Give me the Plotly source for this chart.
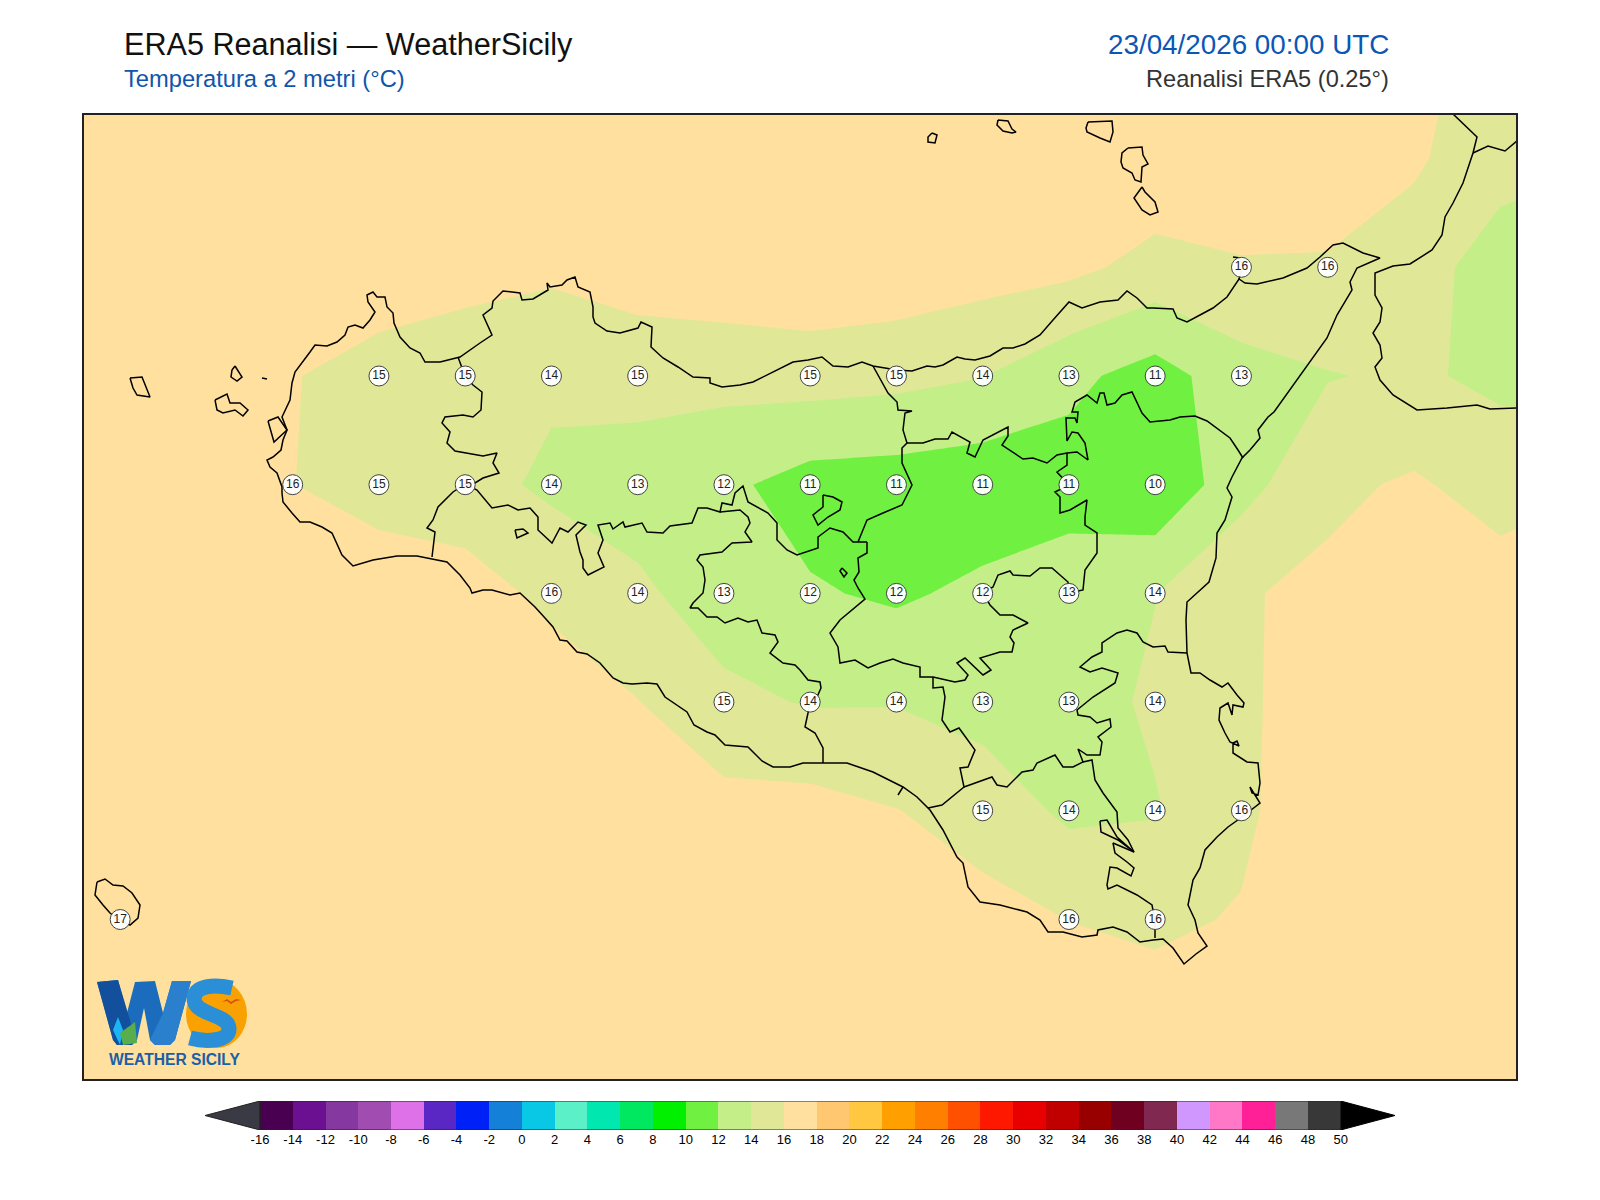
import numpy as np
import plotly.graph_objects as go

# griglia ERA5 0.25 gradi
lons = [11.75, 12.0, 12.25, 12.5, 12.75, 13.0, 13.25, 13.5, 13.75, 14.0, 14.25, 14.5, 14.75, 15.0, 15.25, 15.5, 15.75, 16.0, 16.25]
lats = [38.75, 38.5, 38.25, 38.0, 37.75, 37.5, 37.25, 37.0, 36.75, 36.5, 36.25]

t2m_3875 = [17, 17, 17, 17, 17, 17, 17, 17, 17, 17, 17, 17, 17, 17, 17, 17, 16.4, 15.5, 15]
t2m_3850 = [17, 17, 17.3, 17.3, 17.3, 17, 17, 17, 17, 17.3, 17.3, 17, 17, 17.5, 16.8, 17.2, 16.15, 15.3, 14.2]
t2m_3825 = [17.2, 17.2, 17.3, 17.5, 17.35, 16.66, 16.39, 16.98, 17.43, 17.64, 17.35, 16.83, 16.5, 15.33, 15.9, 15.8, 15.48, 12.38, 12.5]
t2m_3800 = [17.2, 17.2, 17.0, 16.11, 15.1, 14.9, 14.33, 14.75, 14.63, 14.84, 14.59, 14.06, 12.5, 11.17, 13.15, 13.9, 14.29, 13.56, 13]
t2m_3775 = [17, 17, 16.8, 16.04, 15.0, 14.7, 13.64, 13.0, 12.41, 11.2, 11.03, 10.7, 11.1, 10.3, 13.28, 15.6, 16.25, 15.2, 15.9]
t2m_3750 = [17, 17, 17.2, 17.3, 17.4, 16.92, 15.5, 14.4, 12.92, 12.2, 11.7, 12.45, 13.1, 13.95, 15.85, 16.4, 17, 16.9, 16.7]
t2m_3725 = [17, 17, 17, 17.2, 17.4, 17.3, 17.2, 16.05, 14.5, 13.85, 13.9, 13.2, 13.1, 14.33, 15.8, 16.6, 17, 17, 17]
t2m_3700 = [17, 17, 17, 17, 17, 17, 17.2, 17, 16.67, 16.72, 16.05, 15.25, 13.6, 13.85, 15.75, 16.9, 17, 17, 17]
t2m_3675 = [17, 17, 17, 17, 17, 17, 17, 17, 17.4, 17.5, 17.2, 16.57, 15.98, 15.78, 16.09, 17, 17, 17, 17]
t2m_3650 = [17, 17, 17, 17, 17, 17, 17, 17, 17, 17, 17, 17.2, 17, 16.57, 17, 17, 17, 17, 17]
t2m_3625 = [17, 17, 17, 17, 17, 17, 17, 17, 17, 17, 17, 17, 17, 17, 17, 17, 17, 17, 17]
t2m = [t2m_3875, t2m_3850, t2m_3825, t2m_3800, t2m_3775, t2m_3750, t2m_3725, t2m_3700, t2m_3675, t2m_3650, t2m_3625]

# etichette sui punti di terra
label_lon = [15.25, 15.5,
             12.75, 13.0, 13.25, 13.5, 14.0, 14.25, 14.5, 14.75, 15.0, 15.25,
             12.5, 12.75, 13.0, 13.25, 13.5, 13.75, 14.0, 14.25, 14.5, 14.75, 15.0,
             13.25, 13.5, 13.75, 14.0, 14.25, 14.5, 14.75, 15.0,
             13.75, 14.0, 14.25, 14.5, 14.75, 15.0,
             14.5, 14.75, 15.0, 15.25,
             12.0, 14.75, 15.0]
label_lat = [38.25, 38.25,
             38.0, 38.0, 38.0, 38.0, 38.0, 38.0, 38.0, 38.0, 38.0, 38.0,
             37.75, 37.75, 37.75, 37.75, 37.75, 37.75, 37.75, 37.75, 37.75, 37.75, 37.75,
             37.5, 37.5, 37.5, 37.5, 37.5, 37.5, 37.5, 37.5,
             37.25, 37.25, 37.25, 37.25, 37.25, 37.25,
             37.0, 37.0, 37.0, 37.0,
             36.75, 36.75, 36.75]
label_val = [16, 16,
             15, 15, 14, 15, 15, 15, 14, 13, 11, 13,
             16, 15, 15, 14, 13, 12, 11, 11, 11, 11, 10,
             16, 14, 13, 12, 12, 12, 13, 14,
             15, 14, 14, 13, 13, 14,
             15, 14, 14, 16,
             17, 16, 16]

# scala colori
levels = list(range(-16, 52, 2))
band_colors = ["#4a0050", "#6a1090", "#8438a0", "#a04cb0", "#de70e8", "#5a26c4", "#0020f8", "#1480d8",
               "#08c8e6", "#5cf0c8", "#00e8b0", "#00e860", "#00f000", "#70f040", "#c3ee88", "#e0e898",
               "#ffe09e", "#ffc870", "#ffc840", "#ffa000", "#ff8000", "#ff5000", "#ff1800", "#e80000",
               "#c00000", "#980000", "#700020", "#802850", "#d098ff", "#ff78c8", "#ff2098", "#787878", "#383838"]

coast_main = [(282,493),(283,502),(292,513),(300,522),(310,522),(322,527),(332,533),(342,555),(353,566),(373,560),(397,556),(417,556),(432,559),(447,562),(460,575),(470,588),(472,593),(483,590),(492,590),(510,595),(520,593),(528,600),(535,607),(545,618),(553,627),(560,640),(567,641),(577,652),(587,654),(600,663),(613,678),(623,683),(632,684),(647,683),(657,684),(665,697),(680,707),(687,712),(694,725),(707,732),(715,735),(725,745),(748,747),(762,761),(773,767),(790,767),(803,763),(823,763),(847,763),(873,772),(893,782),(903,787),(917,797),(930,810),(943,830),(957,857),(963,863),(968,887),(980,902),(1000,905),(1027,912),(1040,920),(1048,932),(1063,932),(1082,937),(1097,935),(1098,930),(1113,927),(1127,932),(1140,942),(1153,940),(1163,939),(1173,948),(1184,964),(1196,954),(1207,946),(1198,933),(1195,920),(1188,905),(1190,895),(1193,880),(1200,868),(1205,850),(1217,837),(1228,827),(1242,817),(1260,803),(1250,787),(1252,793),(1258,795),(1260,783),(1258,763),(1247,762),(1233,753),(1233,743),(1237,741),(1239,746),(1230,742),(1225,733),(1219,720),(1220,708),(1228,703),(1232,715),(1233,705),(1243,707),(1244,703),(1237,695),(1228,683),(1222,687),(1210,680),(1200,673),(1191,673),(1187,653),(1186,620),(1187,602),(1209,582),(1216,558),(1217,533),(1225,520),(1232,497),(1227,488),(1232,477),(1242,458),(1250,450),(1260,438),(1258,430),(1268,417),(1274,412),(1308,365),(1327,338),(1337,315),(1352,290),(1350,282),(1357,268),(1380,258),(1363,253),(1343,243),(1333,245),(1320,257),(1307,268),(1283,278),(1257,284),(1245,283),(1239,279),(1227,297),(1213,308),(1200,315),(1187,322),(1177,318),(1173,309),(1153,308),(1147,308),(1137,298),(1127,291),(1118,300),(1100,302),(1082,308),(1069,302),(1053,320),(1040,335),(1025,344),(1013,348),(1003,348),(990,356),(975,360),(965,359),(957,357),(943,365),(935,367),(927,366),(912,371),(897,370),(873,366),(862,362),(848,367),(833,366),(822,357),(808,360),(793,362),(773,372),(753,382),(740,385),(722,387),(710,383),(710,378),(693,377),(678,367),(663,358),(651,347),(652,327),(641,322),(638,328),(620,333),(607,331),(595,323),(593,317),(593,307),(590,292),(578,287),(575,277),(567,280),(562,285),(550,287),(547,283),(548,290),(533,299),(522,300),(520,293),(503,291),(493,301),(492,308),(483,315),(492,335),(480,343),(460,357),(440,362),(425,362),(420,353),(410,348),(400,337),(394,323),(393,313),(387,307),(385,297),(377,297),(373,292),(367,295),(368,302),(375,312),(370,320),(363,328),(355,325),(348,327),(345,335),(337,342),(327,346),(315,345),(310,352),(302,363),(295,372),(292,383),(290,400),(282,417),(287,430),(283,440),(281,450),(273,457),(267,460),(270,467),(277,473),(282,487),(282,493)]
coast_calabria = [(1453,114),(1467,127),(1477,137),(1473,153),(1463,183),(1453,203),(1445,217),(1442,235),(1432,250),(1410,264),(1393,266),(1375,273),(1375,295),(1382,308),(1380,322),(1373,333),(1380,345),(1382,358),(1375,367),(1380,380),(1393,395),(1417,410),(1447,408),(1477,405),(1490,409),(1517,408)]
border_calabria = [(1473,153),(1488,146),(1505,151),(1517,141)]
milazzo = [(1239,279),(1243,268),(1240,258),(1233,257)]
isola_lunga = [(268,421),(278,417),(287,430),(274,442),(268,421)]
marettimo = [(130,378),(142,377),(150,397),(137,395),(133,388),(130,378)]
levanzo = [(235,366),(242,377),(237,381),(231,377),(232,370),(235,366)]
favignana = [(215,400),(227,394),(230,403),(240,403),(248,410),(243,416),(235,410),(223,413),(217,410),(215,400)]
formica = [(262,378),(267,379)]
alicudi = [(932,133),(937,135),(935,143),(928,142),(928,137),(932,133)]
filicudi = [(998,120),(1008,121),(1012,129),(1016,132),(1012,133),(1003,131),(997,125),(998,120)]
salina = [(1088,122),(1112,121),(1113,132),(1110,142),(1100,138),(1087,132),(1086,128),(1088,122)]
lipari = [(1128,148),(1142,147),(1143,155),(1148,164),(1142,167),(1141,182),(1135,180),(1132,173),(1123,168),(1121,162),(1122,153),(1128,148)]
vulcano = [(1142,187),(1145,192),(1155,202),(1158,212),(1150,215),(1142,210),(1134,198),(1138,192),(1142,187)]
pantelleria = [(97,882),(105,879),(113,885),(123,886),(132,893),(140,905),(138,918),(130,925),(119,920),(110,913),(103,905),(95,895),(97,882)]

border_tp_pa = [(458,357),(465,376),(473,385),(482,392),(481,410),(473,417),(463,415),(445,417),(442,423),(450,432),(447,443),(455,451),(483,456),(497,453),(493,463),(499,473),(483,478),(475,483),(465,484)]
border_tp_ag = [(465,484),(453,492),(438,507),(433,520),(427,528),(435,532),(432,557)]
border_pa_ag = [(465,484),(477,490),(492,508),(508,505),(518,510),(530,508),(538,517),(538,530),(552,543),(560,528),(568,532),(578,522),(586,525),(576,535),(580,552),(583,560),(583,568),(588,575),(604,567),(598,553),(603,540),(598,525),(610,523),(613,529),(623,522),(625,527),(642,523),(647,532),(663,533),(670,526),(692,523),(698,508),(707,508),(720,512),(722,503),(732,505),(735,493),(743,486),(748,502),(768,513),(777,523),(777,540),(787,550),(797,555),(818,548),(818,537),(830,528),(843,532),(853,542),(858,542),(867,542)]
border_pa_me = [(858,542),(867,520),(883,513),(902,505),(912,485),(902,463),(902,448),(907,443),(903,430),(905,413),(912,411),(898,410),(897,402),(888,393),(873,366)]
border_me_en = [(907,443),(923,443),(935,439),(948,439),(952,432),(970,442),(967,453),(975,457),(983,440),(997,433),(1008,427),(1008,436),(1002,445),(1023,459),(1033,458),(1047,463),(1057,455),(1067,453),(1077,452),(1088,460),(1085,443),(1078,433),(1072,432),(1067,441),(1066,418),(1075,418),(1077,423),(1078,412),(1072,412),(1075,402),(1087,395),(1097,403),(1100,393),(1104,393),(1107,405),(1115,403),(1122,395),(1132,392),(1142,413),(1150,422),(1170,420),(1180,417),(1195,416),(1207,421),(1218,429),(1230,438),(1238,450),(1243,458)]
border_en_ct = [(1067,453),(1067,465),(1057,472),(1069,485),(1055,492),(1060,497),(1060,513),(1070,510),(1087,500),(1085,517),(1085,525),(1097,533),(1097,553),(1085,570),(1083,590),(1069,593),(1068,582),(1052,568),(1040,568),(1030,576),(1013,575),(1010,571),(998,575),(993,587),(983,593),(990,605),(1000,615),(1013,615),(1028,623),(1013,630),(1010,637),(1014,643),(1012,652),(1000,652),(980,658),(991,670),(983,675),(965,658),(957,663),(968,675),(965,680),(955,682),(933,677),(920,677),(920,667),(903,663),(893,659),(880,663),(868,668),(855,660),(840,663),(838,647),(830,633),(840,620),(865,599),(858,588),(854,580),(859,572),(858,558),(867,553),(867,542)]
border_cl_ct = [(933,677),(933,688),(943,687),(945,697),(942,720),(950,732),(959,728),(975,750),(968,767),(960,768),(964,787),(942,805),(928,808)]
border_ct_rg = [(964,787),(992,777),(997,785),(1007,787),(1022,772),(1033,770),(1037,763),(1055,755),(1063,767),(1073,767),(1083,762),(1078,749),(1087,755),(1100,755),(1102,742),(1098,737),(1111,727),(1110,719),(1097,723),(1090,717),(1078,715),(1077,710),(1093,697),(1107,688),(1115,683),(1118,673),(1102,668),(1090,672),(1080,667),(1092,657),(1102,652),(1102,643),(1117,633),(1127,630),(1137,633),(1143,642),(1153,647),(1165,646),(1168,652),(1187,653)]
border_rg_sr = [(1083,762),(1092,760),(1095,780),(1103,793),(1117,812),(1118,828),(1128,840),(1134,852),(1113,843),(1115,853),(1127,862),(1134,868),(1131,876),(1117,868),(1110,867),(1107,885),(1108,889),(1117,885),(1137,895),(1152,905),(1155,920),(1155,938)]
laghetto_sr = [(1100,821),(1107,820),(1117,837),(1134,852),(1118,840),(1101,832),(1100,821)]
border_ag_cl = [(823,763),(823,748),(815,733),(805,727),(808,713),(810,702),(817,697),(821,688),(820,682),(808,680),(800,670),(795,665),(783,663),(770,653),(778,642),(775,635),(762,633),(757,620),(748,622),(738,618),(725,623),(717,617),(707,617),(698,608),(690,608),(693,603),(703,593),(705,580),(703,567),(697,560),(700,555),(722,552),(732,543),(752,542),(745,532),(750,523),(748,517),(740,510),(720,512)]
stub_gela = [(903,787),(898,795)]
lake_pozzillo = [(842,568),(847,573),(844,577),(840,571),(842,568)]
lake_enna = [(823,495),(833,497),(842,502),(840,510),(828,517),(818,525),(813,515),(823,507),(823,495)]
lake_ag = [(515,530),(523,529),(528,533),(517,538),(515,530)]

map_lines = [coast_main, coast_calabria, border_calabria, milazzo, isola_lunga, marettimo, levanzo, favignana, formica,
             alicudi, filicudi, salina, lipari, vulcano, pantelleria, border_tp_pa, border_tp_ag, border_pa_ag,
             border_pa_me, border_me_en, border_en_ct, border_cl_ct, border_ct_rg, border_rg_sr, laghetto_sr,
             border_ag_cl, stub_gela, lake_pozzillo, lake_enna, lake_ag]

W, H = 1600, 1200
PAGE_MARGIN = 8  # margine del body nella pagina
FRAME = (84, 115, 1516, 1079)


def to_lon(x):
    return 12.5 + (x - 292.7) / 345.0


def to_lat(y):
    return 38.0 - (y - 376.0) / 434.8


def fx(x):
    return (x - PAGE_MARGIN) / W


def fy(y):
    return 1 - (y - PAGE_MARGIN) / H


fig = go.Figure()

# bande colorate, gradini uguali a quelli della barra
scale = []
n = len(band_colors)
for i, c in enumerate(band_colors):
    scale.append([i / n, c])
    scale.append([(i + 1) / n, c])

fig.add_trace(go.Contour(x=lons, y=lats, z=t2m, colorscale=scale, zmin=levels[0], zmax=levels[-1],
                         autocontour=False, showscale=False, hoverinfo="skip",
                         contours=dict(start=levels[0], end=levels[-1], size=2, coloring="fill", showlines=False),
                         line=dict(width=0, smoothing=0)))

for pts in map_lines:
    fig.add_trace(go.Scatter(x=[to_lon(p[0]) for p in pts], y=[to_lat(p[1]) for p in pts], mode="lines",
                             line=dict(color="black", width=1.5), hoverinfo="skip", showlegend=False))

fig.add_trace(go.Scatter(x=label_lon, y=label_lat, mode="markers+text", text=[str(v) for v in label_val],
                         textposition="middle center", textfont=dict(family="Liberation Sans", size=12, color="#222222"),
                         marker=dict(size=20, color="rgba(255,255,255,0.95)", line=dict(color="#444444", width=1)),
                         hoverinfo="skip", showlegend=False))

# barra colori
bar_mid = [v + 1 for v in levels[:-1]]
fig.add_trace(go.Bar(x=bar_mid, y=[1] * n, width=2, marker=dict(color=band_colors, line=dict(width=0)),
                     xaxis="x2", yaxis="y2", hoverinfo="skip", showlegend=False))
fig.add_trace(go.Scatter(x=[-16, -19.36, -16, -16], y=[0, 0.5, 1, 0], fill="toself", fillcolor="#3a3a44", mode="lines",
                         line=dict(color="#222222", width=1), xaxis="x2", yaxis="y2", hoverinfo="skip", showlegend=False))
fig.add_trace(go.Scatter(x=[50, 53.32, 50, 50], y=[0, 0.5, 1, 0], fill="toself", fillcolor="#000000", mode="lines",
                         line=dict(color="#000000", width=1), xaxis="x2", yaxis="y2", hoverinfo="skip", showlegend=False))
fig.add_trace(go.Scatter(x=[-16, 50, 50, -16, -16], y=[0, 0, 1, 1, 0], mode="lines", line=dict(color="#222222", width=1),
                         xaxis="x2", yaxis="y2", hoverinfo="skip", showlegend=False))

fig.update_layout(
    width=W, height=H, margin=dict(l=0, r=0, t=0, b=0), paper_bgcolor="white", plot_bgcolor="white",
    showlegend=False, bargap=0,
    xaxis=dict(domain=[fx(FRAME[0]), fx(FRAME[2])], range=[to_lon(FRAME[0]), to_lon(FRAME[2])], showgrid=False,
               zeroline=False, showticklabels=False, ticks="", showline=True, mirror=True, linecolor="#222222", linewidth=1.5),
    yaxis=dict(domain=[fy(FRAME[3]), fy(FRAME[1])], range=[to_lat(FRAME[3]), to_lat(FRAME[1])], showgrid=False,
               zeroline=False, showticklabels=False, ticks="", showline=True, mirror=True, linecolor="#222222", linewidth=1.5),
    xaxis2=dict(domain=[fx(205), fx(1395)], range=[-19.36, 53.32], anchor="y2", showgrid=False, zeroline=False,
                tickmode="array", tickvals=levels, ticktext=[str(v) for v in levels], ticks="", ticklen=0,
                tickfont=dict(family="Liberation Sans", size=13, color="black")),
    yaxis2=dict(domain=[fy(1130), fy(1101)], range=[0, 1], anchor="x2", showgrid=False, zeroline=False,
                showticklabels=False, ticks=""),
)


def add_text(x, y, text, size, color, anchor="left", bold=False):
    fig.add_annotation(x=fx(x), y=fy(y), xref="paper", yref="paper", text=("<b>%s</b>" % text) if bold else text,
                       showarrow=False, xanchor=anchor, yanchor="middle",
                       font=dict(family="Liberation Sans", size=size, color=color))


add_text(122, 44, "ERA5 Reanalisi — WeatherSicily", 30.6, "#111111")
add_text(122, 79.5, "Temperatura a 2 metri (°C)", 23.7, "#1155aa")
add_text(1391, 44, "23/04/2026 00:00 UTC", 27.8, "#0b57b5", anchor="right")
add_text(1391, 79.5, "Reanalisi ERA5 (0.25°)", 23.6, "#333333", anchor="right")


# logo WS
def logo_path(points):
    return "M " + " L ".join("%.5f,%.5f" % (fx(a), fy(b)) for a, b in points) + " Z"


def curve_path(start, segments):
    parts = ["M %.5f,%.5f" % (fx(start[0]), fy(start[1]))]
    for seg in segments:
        parts.append("C " + " ".join("%.5f,%.5f" % (fx(a), fy(b)) for a, b in seg))
    return " ".join(parts)


logo_w = [(97,982),(118,980),(127,1013),(135,982),(155,981),(163,1013),(172,981),(191,981),(175,1040),(170,1045),(155,1045),(150,1040),(144,1008),(137,1040),(132,1045),(117,1045),(113,1040)]
logo_w_left = [(97,982),(118,980),(136,1040),(132,1045),(117,1045),(113,1040)]
logo_w_right = [(172,981),(191,981),(175,1040),(170,1045),(155,1045),(150,1040),(163,1013)]
logo_drop = [(113,1030),(118,1017),(123,1030),(120,1045)]
logo_leaf = [(120,1033),(135,1022),(137,1043),(123,1045)]
logo_bird = [(222,1002),(227,999),(231,1002),(236,999),(241,1000),(236,1001),(231,1004),(227,1001)]

fig.add_shape(type="circle", xref="paper", yref="paper", x0=fx(186), x1=fx(247), y0=fy(1048), y1=fy(980),
              fillcolor="#f9a100", line=dict(width=0))
for pts, col in [(logo_w, "#1c6cbd"), (logo_w_left, "#12509e"), (logo_w_right, "#2a80cc"),
                 (logo_drop, "#1db4f2"), (logo_leaf, "#58ae4c")]:
    fig.add_shape(type="path", xref="paper", yref="paper", path=logo_path(pts), fillcolor=col, line=dict(width=0))
fig.add_shape(type="path", xref="paper", yref="paper", line=dict(color="#2a8fd6", width=15),
              path=curve_path((232, 988), [[(205, 982), (190, 990), (195, 1003)],
                                           [(200, 1015), (228, 1015), (229, 1028)],
                                           [(230, 1042), (205, 1042), (190, 1038)]]))
fig.add_shape(type="path", xref="paper", yref="paper", path=logo_path(logo_bird), fillcolor="#d0501a", line=dict(width=0))
add_text(174, 1059, "WEATHER SICILY", 15.6, "#1a5fa8", anchor="center", bold=True)

fig.write_html("out.html")
